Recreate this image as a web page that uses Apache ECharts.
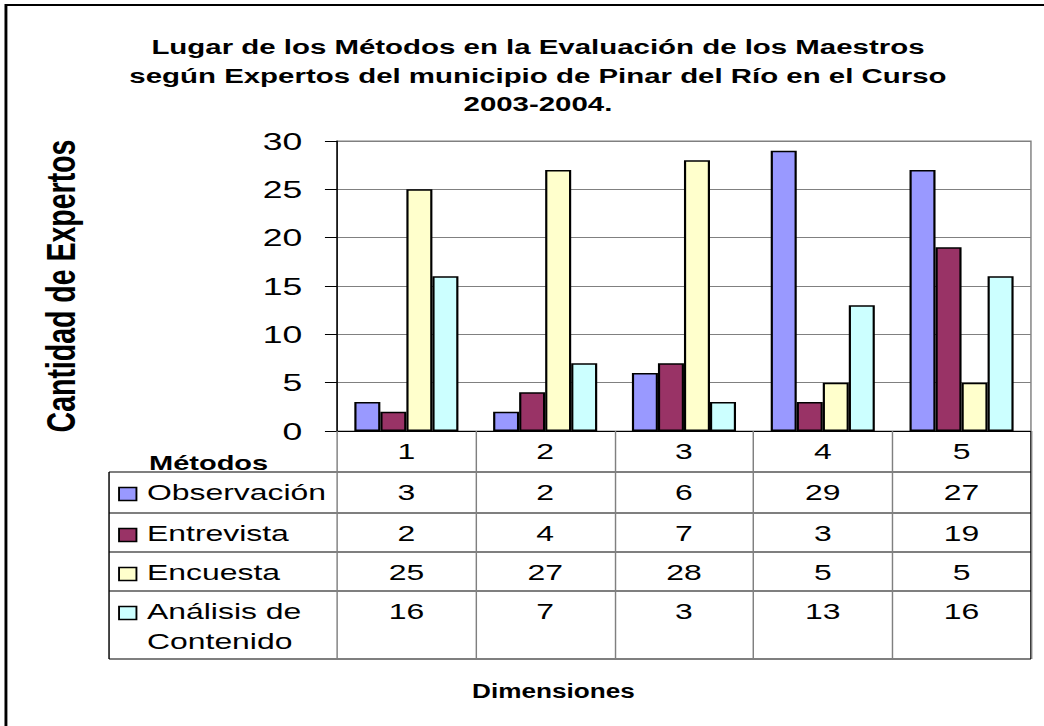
<!DOCTYPE html>
<html>
<head>
<meta charset="utf-8">
<script src="https://cdn.jsdelivr.net/npm/echarts@6/dist/echarts.min.js"></script>
<style>
  html, body { margin: 0; padding: 0; background: #fff; overflow: hidden; width: 1044px; height: 726px; }
  #wrap { width: 1044px; height: 726px; overflow: hidden; }
  #c { width: 720px; height: 726px; transform: scaleX(1.45); transform-origin: 0 0; }
</style>
</head>
<body>
<div id="wrap"><div id="c"></div></div>
<script>
// ---- data ----
const titleText = 'Lugar de los Métodos en la Evaluación de los Maestros\nsegún Expertos del municipio de Pinar del Río en el Curso\n2003-2004.';
const categories = ['1', '2', '3', '4', '5'];
const seriesNames = ['Observación', 'Entrevista', 'Encuesta', 'Análisis de Contenido'];
const observacion = [3, 2, 6, 29, 27];
const entrevista = [2, 4, 7, 3, 19];
const encuesta = [25, 27, 28, 5, 5];
const analisis = [16, 7, 3, 13, 16];
const yTicks = [0, 5, 10, 15, 20, 25, 30];
const xAxisTitle = 'Dimensiones';
const yAxisTitle = 'Cantidad de Expertos';
const tableHeader = 'Métodos';
const tableRowLabels = ['Observación', 'Entrevista', 'Encuesta', 'Análisis de\nContenido'];

// ---- styling / layout ----
const colors = ['#9999FF', '#993366', '#FFFFCC', '#CCFFFF'];
const FONT = '"Liberation Sans", Arial, sans-serif';
const values = [observacion, entrevista, encuesta, analisis];
const GRID = { left: 232.4, right: 9, top: 141, bottom: 295 };
const TABLE_LEFT = 75.2;
const ROW_TOP = 472;
const ROW_H = [41, 39, 39, 68];

const chart = echarts.init(document.getElementById('c'), null, { renderer: 'svg' });

const option = {
  animation: false,
  backgroundColor: '#ffffff',
  title: {
    text: titleText,
    left: 366,
    top: 28,
    textAlign: 'center',
    textStyle: { fontFamily: FONT, fontSize: 20.3, fontWeight: 'bold', color: '#000', lineHeight: 28.5 }
  },
  grid: {
    left: GRID.left, right: GRID.right, top: GRID.top, bottom: GRID.bottom,
    show: true, borderColor: '#808080', borderWidth: 1, backgroundColor: 'transparent'
  },
  xAxis: {
    type: 'category',
    data: categories,
    boundaryGap: true,
    axisLine: { show: true, lineStyle: { color: '#000', width: 1 } },
    axisTick: { show: true, length: 228, interval: 0, lineStyle: { color: '#808080', width: 1 } },
    axisLabel: { fontFamily: FONT, fontSize: 22, color: '#000', margin: 9, lineHeight: 22, interval: 0 },
    splitLine: { show: false }
  },
  yAxis: {
    type: 'value',
    min: yTicks[0],
    max: yTicks[yTicks.length - 1],
    interval: yTicks[1] - yTicks[0],
    name: yAxisTitle,
    nameLocation: 'middle',
    nameGap: 176,
    nameTextStyle: { fontFamily: FONT, fontSize: 28.5, fontWeight: 'bold', color: '#000' },
    axisLine: { show: true, lineStyle: { color: '#000', width: 1 } },
    axisTick: { show: true, length: 8.3, lineStyle: { color: '#000', width: 1 } },
    axisLabel: { fontFamily: FONT, fontSize: 24.5, color: '#000', margin: 24 },
    splitLine: { show: true, lineStyle: { color: '#808080', width: 1 } }
  },
  series: seriesNames.map((name, i) => ({
    name: name,
    type: 'bar',
    data: values[i],
    barGap: '0%',
    barCategoryGap: '25%',
    itemStyle: { color: colors[i], borderColor: '#000', borderWidth: 1.5 }
  }))
};
chart.setOption(option);

// ---- data table below the axis (built from the arrays above) ----
const gW = 720 - GRID.right;
const graphics = [];
// outer chart border
graphics.push({ type: 'rect', shape: { x: 4.1, y: 5, width: 800, height: 800 }, style: { fill: 'none', stroke: '#000', lineWidth: 2 }, silent: true });
// header label
graphics.push({ type: 'text', x: 102.8, y: 463, style: { text: tableHeader, font: 'bold 20px ' + FONT, fill: '#000', verticalAlign: 'middle', align: 'left' } });
// horizontal row lines
let y = ROW_TOP;
const rowTops = [];
for (let r = 0; r < ROW_H.length; r++) { rowTops.push(y); y += ROW_H[r]; }
const tableBottom = y;
[ROW_TOP].concat(rowTops.slice(1)).concat([tableBottom]).forEach(ly => {
  graphics.push({ type: 'line', shape: { x1: TABLE_LEFT, y1: ly, x2: gW, y2: ly }, style: { stroke: '#000', lineWidth: 1 }, silent: true });
});
// left and right table borders
graphics.push({ type: 'line', shape: { x1: TABLE_LEFT, y1: ROW_TOP, x2: TABLE_LEFT, y2: tableBottom }, style: { stroke: '#000', lineWidth: 1 }, silent: true });
graphics.push({ type: 'line', shape: { x1: gW, y1: 431, x2: gW, y2: tableBottom }, style: { stroke: '#000', lineWidth: 1 }, silent: true });
// row keys, labels and values
tableRowLabels.forEach((lab, r) => {
  const top = rowTops[r];
  graphics.push({ type: 'rect', shape: { x: 82.1, y: top + 15.5, width: 12, height: 13 }, style: { fill: colors[r], stroke: '#000', lineWidth: 1.3 } });
  graphics.push({ type: 'text', x: 101.4, y: top + 5, style: { text: lab, font: '22px ' + FONT, fill: '#000', align: 'left', verticalAlign: 'top', lineHeight: 30 } });
  values[r].forEach((v, i) => {
    const px = chart.convertToPixel({ xAxisIndex: 0 }, i);
    graphics.push({ type: 'text', x: px, y: top + 5, style: { text: String(v), font: '22px ' + FONT, fill: '#000', align: 'center', verticalAlign: 'top', lineHeight: 30 } });
  });
});
// x axis title
graphics.push({ type: 'text', x: 381.7, y: 691, scaleX: 0.88, style: { text: xAxisTitle, font: 'bold 20.5px ' + FONT, fill: '#000', align: 'center', verticalAlign: 'middle' } });

chart.setOption({ graphic: { elements: graphics } });
</script>
</body>
</html>
